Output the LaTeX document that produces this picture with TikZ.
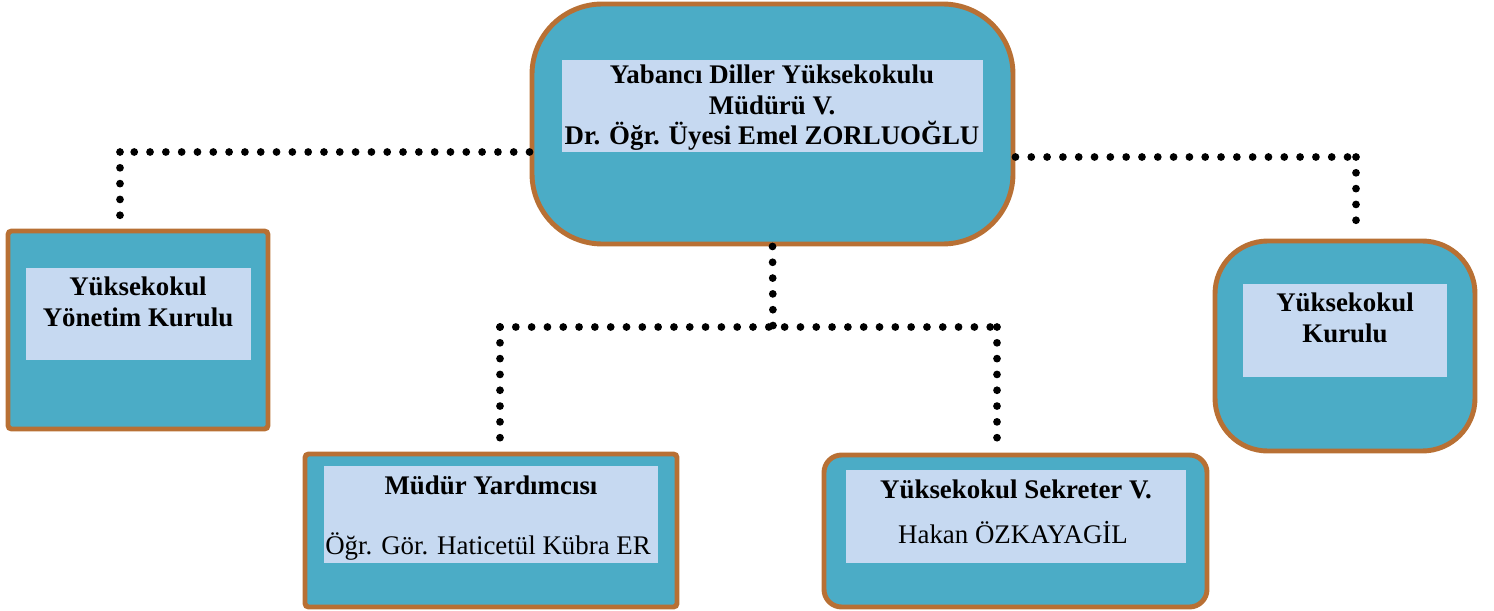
\documentclass[tikz,border=0pt]{standalone}
\usepackage{fontspec}
\setmainfont{Liberation Serif}
\usetikzlibrary{fit}
\definecolor{boxfill}{HTML}{4BACC6}
\definecolor{boxline}{HTML}{B87034}
\definecolor{innerfill}{HTML}{C6D9F1}
\tikzset{
  box/.style={draw=boxline, fill=boxfill, line width=2.8pt, inner sep=0pt},
  inner/.style={fill=innerfill, inner sep=0pt},
  btxt/.style={font=\fontsize{15.3}{17.3}\selectfont\bfseries, align=center, inner sep=0pt},
  rtxt/.style={font=\fontsize{15.3}{17.3}\selectfont, align=center, inner sep=0pt},
  dots/.style={line width=4.4pt, line cap=round, dash pattern=on 0pt off 9pt}
}
\begin{document}
\begin{tikzpicture} [x=0.02cm, y=-0.02cm]
\useasboundingbox (0,0) rectangle (1494,611);

% boxes
\node [box, rounded corners=40, fit={(532,4) (1013,244)}] (top) {};
\node [box, rounded corners=2, fit={(8,231) (268,429)}] (ykb) {};
\node [box, rounded corners=30, fit={(1215,241) (1475,451)}] (yk) {};
\node [box, rounded corners=2, fit={(305,454) (677,607)}] (myd) {};
\node [box, rounded corners=10, fit={(824,455) (1207,607)}] (sek) {};

% inner panels
\node [inner, fit={(562,60) (983,152)}] (topin) {};
\node [inner, fit={(26,268) (251,360)}] (ykbin) {};
\node [inner, fit={(1243,284) (1447,377)}] (ykin) {};
\node [inner, fit={(324,466) (658,563)}] (mydin) {};
\node [inner, fit={(846,470) (1186,563)}] (sekin) {};

% texts
\node [btxt] (toptx) at (772,108) {Yabancı Diller Yüksekokulu\\Müdürü V.\\Dr. Öğr. Üyesi Emel ZORLUOĞLU};
\node [btxt] (ykbtx) at (138,302) {Yüksekokul\\Yönetim Kurulu};
\node [btxt] (yktx) at (1345,318) {Yüksekokul\\Kurulu};
\node [btxt] (mydtx) at (491,485) {Müdür Yardımcısı};
\node [rtxt] (mydnm) at (488,547) {Öğr. Gör. Haticetül Kübra ER};
\node [btxt] (sektx) at (1016,489) {Yüksekokul Sekreter V.};
\node [rtxt] (seknm) at (1013,533) {Hakan ÖZKAYAGİL};

% dotted connectors
\coordinate (lturn) at (120,152);
\coordinate (rturn) at (1356,157);
\coordinate (mid) at (773,327);
\coordinate (bl) at (500,327);
\coordinate (br) at (997,327);

\draw [dots] (lturn -| top.west) -- (lturn);
\draw [dots, shorten >=6pt] (lturn) -- (lturn |- ykb.north);
\draw [dots] (rturn -| top.east) -- (rturn);
\draw [dots, shorten >=7pt] (rturn) -- (rturn |- yk.north);
\draw [dots] (top.south) -- (mid);
\draw [dots] (bl) -- (br);
\draw [dots, shorten >=5pt] (bl) -- (bl |- myd.north);
\draw [dots, shorten >=5pt] (br) -- (br |- sek.north);
\end{tikzpicture}
\end{document}
